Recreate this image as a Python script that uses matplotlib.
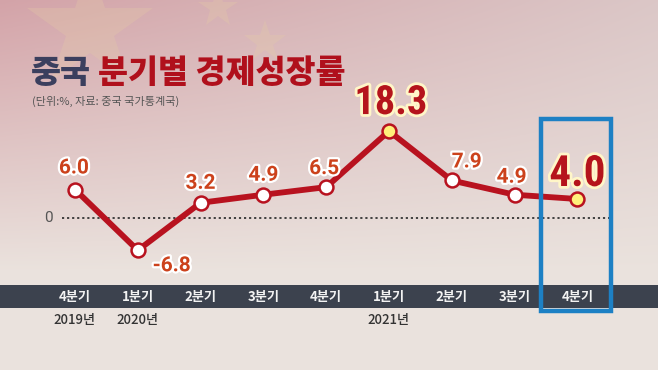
import numpy as np
import matplotlib
matplotlib.use("Agg")
import matplotlib.pyplot as plt
import matplotlib.patheffects as pe
from matplotlib.patches import Rectangle

plt.rcParams['font.family'] = ['Noto Sans CJK JP', 'DejaVu Sans']

quarters = ["4분기", "1분기", "2분기", "3분기", "4분기", "1분기", "2분기", "3분기", "4분기"]
years = {0: "2019년", 1: "2020년", 5: "2021년"}
growth = [6.0, -6.8, 3.2, 4.9, 6.5, 18.3, 7.9, 4.9, 4.0]
labels = ["6.0", "-6.8", "3.2", "4.9", "6.5", "18.3", "7.9", "4.9", "4.0"]
highlight = [5, 8]
# label baseline offsets from point (pixels)
offsets = [(-1, 16), (34, -21), (0, 14), (0, 14), (-2, 13), (2, 17), (15, 13), (-3, 12), (0, 13)]

W, H = 658, 370
fig = plt.figure(figsize=(W / 100, H / 100), dpi=100)

# background gradient
bg = fig.add_axes([0, 0, 1, 1])
bg.set_axis_off()
yy = np.linspace(0, 1, 200)[:, None]
xx = np.linspace(0, 1, 300)[None, :]
top_l = np.array([0.83, 0.64, 0.66])
top_r = np.array([0.86, 0.78, 0.78])
bot = np.array([0.92, 0.89, 0.87])
tx = xx[..., None] * np.ones_like(yy)[..., None]
top = top_l * (1 - tx) + top_r * tx
t = np.clip(yy * 1.35, 0, 1)[..., None] * np.ones_like(xx)[..., None]
img = top * (1 - t) + bot * t
bg.imshow(np.clip(img, 0, 1), aspect='auto', extent=[0, 1, 0, 1], origin='upper')
# faint flag stars
for (sx, sy, ss) in [(90, 28, 95), (218, 8, 30), (265, 42, 32)]:
    bg.plot(sx / W, 1 - sy / H, marker='*', ms=ss, color='#e6cda6', alpha=0.28, mew=0)
bg.set_xlim(0, 1); bg.set_ylim(0, 1)

def fx(px):
    return px / W

def fy(py):
    return 1 - py / H

# dark band
fig.patches.append(Rectangle((0, fy(308)), 1, (308 - 285) / H, transform=fig.transFigure,
                             facecolor='#3c424e', edgecolor='none', zorder=1))

# main axes covering whole figure, data coords aligned with pixels
ax = fig.add_axes([0, 0, 1, 1])
ax.set_axis_off()
ax.patch.set_alpha(0)
x0, dx = 75, 62.8
y0, dy = 218, 4.75
ax.set_xlim(-x0 / dx, (W - x0) / dx)
ax.set_ylim(-(H - y0) / dy, y0 / dy)

x = np.arange(len(growth))

# zero line
ax.plot([(62 - x0) / dx, (612 - x0) / dx], [0, 0], color='#333333', lw=1.3,
        linestyle=(0, (1.2, 1.6)), zorder=2)
ax.text((48 - x0) / dx, 0, "0", color='#555555', fontsize=11, ha='center', va='center',
        family='Roboto')

# line
ax.plot(x, growth, color='#b8121f', lw=4.2, zorder=3, solid_capstyle='round')
for i, v in enumerate(growth):
    fc = '#fff07a' if i in highlight else 'white'
    ax.plot(i, v, 'o', ms=10, mfc=fc, mec='#b8121f', mew=1.8, zorder=4)

for i, (v, lab) in enumerate(zip(growth, labels)):
    big = i in highlight
    stroke = [pe.withStroke(linewidth=4 if big else 3.2,
                            foreground='#fff6c8' if big else 'white')]
    ax.annotate(lab, (i, v), xytext=offsets[i], textcoords='offset pixels',
                ha='center', va='baseline',
                fontsize=(31 if i == 8 else 29) if big else 15,
                fontweight='bold', color='#b5141c' if big else '#cc421c',
                path_effects=stroke, zorder=5,
                family='Roboto Condensed' if big else 'Roboto')

# tick labels
for i, q in enumerate(quarters):
    fig.text(fx(x0 + dx * i), fy(297), q, color='#f2f2f2', fontsize=9.5, fontweight='bold',
             ha='center', va='center', zorder=6)
for i, yl in years.items():
    fig.text(fx(x0 + dx * i), fy(320), yl, color='#333333', fontsize=9.5, fontweight='medium',
             ha='center', va='center')

# highlight box
fig.patches.append(Rectangle((fx(541), fy(311)), (611 - 541) / W, (311 - 119) / H,
                             transform=fig.transFigure, facecolor='none',
                             edgecolor='#1d80c4', lw=3.2, zorder=7))

# title
fig.text(fx(31), fy(73), "중국", color='#3b3f5e', fontsize=23.5, fontweight=900,
         ha='left', va='center')
fig.text(fx(98), fy(73), "분기별 경제성장률", color='#b0101c', fontsize=23.5,
         fontweight=900, ha='left', va='center')
fig.text(fx(32), fy(101), "(단위:%, 자료: 중국 국가통계국)", color='#555555',
         fontsize=8, ha='left', va='center')

fig.savefig("out.png", dpi=100)
